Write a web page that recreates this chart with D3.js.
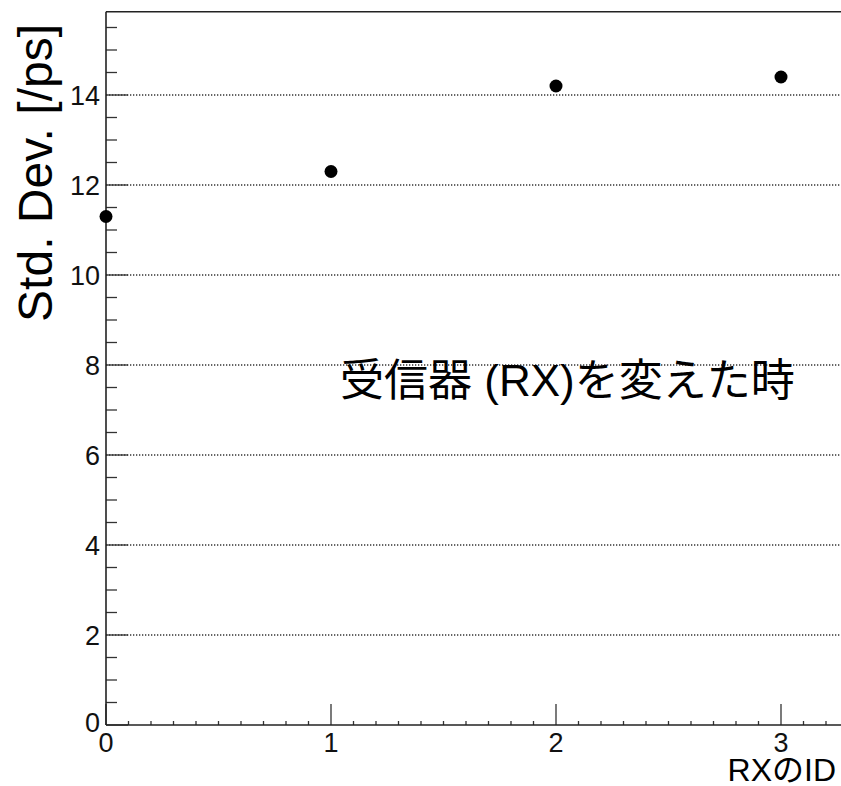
<!DOCTYPE html>
<html>
<head>
<meta charset="utf-8">
<script src="https://cdn.jsdelivr.net/npm/d3@7"></script>
<style>
  html, body { margin: 0; padding: 0; background: #fff; overflow: hidden; }
  text { font-family: "Liberation Sans", Arial, "Noto Sans CJK JP", sans-serif; }
</style>
</head>
<body>
<div id="chart"></div>
<script>
// data
const rxIds = [0, 1, 2, 3];
const stdDevs = [11.3, 12.3, 14.2, 14.4];
const yTicks = [0, 2, 4, 6, 8, 10, 12, 14];
const xTicks = [0, 1, 2, 3];
const yTitle = "Std. Dev. [/ps]";
const xTitle = "RXのID";
const note = "受信器 (RX)を変えた時";

const width = 841, height = 786;

const svg = d3.select("#chart").append("svg")
    .attr("width", width)
    .attr("height", height);

const xScale = d3.scaleLinear().domain([0, 3.3]).range([106, 848.5]);
const yScale = d3.scaleLinear().domain([0, 15.85]).range([725, 11.75]);

// dotted grid lines
svg.append("g")
    .selectAll("line")
    .data(yTicks.filter(d => d > 0))
    .enter().append("line")
    .attr("x1", xScale(0))
    .attr("x2", width)
    .attr("y1", d => yScale(d))
    .attr("y2", d => yScale(d))
    .attr("stroke", "#333")
    .attr("stroke-width", 1.3)
    .attr("stroke-dasharray", "1.3,1.7");

// y axis: ticks point into the plot
const yMinor = d3.range(0, 15.8, 0.5).filter(v => v % 2 !== 0);
const yAxis = svg.append("g").attr("class", "yAxis");
yAxis.selectAll(".minor")
    .data(yMinor)
    .enter().append("line")
    .attr("x1", xScale(0)).attr("x2", xScale(0) + 11)
    .attr("y1", d => yScale(d)).attr("y2", d => yScale(d))
    .attr("stroke", "#333").attr("stroke-width", 1.3);
yAxis.selectAll(".major")
    .data(yTicks)
    .enter().append("line")
    .attr("x1", xScale(0)).attr("x2", xScale(0) + 22)
    .attr("y1", d => yScale(d)).attr("y2", d => yScale(d))
    .attr("stroke", "#333").attr("stroke-width", 1.3);
yAxis.selectAll("text")
    .data(yTicks)
    .enter().append("text")
    .attr("x", 100)
    .attr("y", d => yScale(d) + (d === 0 ? -3 : 0))
    .attr("dy", "0.36em")
    .attr("text-anchor", "end")
    .attr("font-size", 27)
    .attr("fill", "#111")
    .text(d => d);

// x axis
const xMinor = d3.range(0, 3.31, 0.1).filter(v => Math.abs(v - Math.round(v)) > 0.01);
const xAxis = svg.append("g").attr("class", "xAxis");
xAxis.selectAll(".minor")
    .data(xMinor)
    .enter().append("line")
    .attr("x1", d => xScale(d)).attr("x2", d => xScale(d))
    .attr("y1", yScale(0)).attr("y2", yScale(0) - 4)
    .attr("stroke", "#333").attr("stroke-width", 1.3);
xAxis.selectAll(".major")
    .data(xTicks)
    .enter().append("line")
    .attr("x1", d => xScale(d)).attr("x2", d => xScale(d))
    .attr("y1", yScale(0)).attr("y2", yScale(0) - 21)
    .attr("stroke", "#333").attr("stroke-width", 1.3);
xAxis.selectAll("text")
    .data(xTicks)
    .enter().append("text")
    .attr("x", d => xScale(d))
    .attr("y", 752)
    .attr("text-anchor", "middle")
    .attr("font-size", 27)
    .attr("fill", "#111")
    .text(d => d);

// frame lines
svg.append("line")
    .attr("x1", xScale(0)).attr("x2", xScale(0))
    .attr("y1", yScale(15.85)).attr("y2", yScale(0))
    .attr("stroke", "#222").attr("stroke-width", 1.6);
svg.append("line")
    .attr("x1", xScale(0)).attr("x2", width)
    .attr("y1", yScale(0)).attr("y2", yScale(0))
    .attr("stroke", "#222").attr("stroke-width", 1.6);
svg.append("line")
    .attr("x1", xScale(0)).attr("x2", width)
    .attr("y1", yScale(15.85)).attr("y2", yScale(15.85))
    .attr("stroke", "#222").attr("stroke-width", 1.6);

// points
svg.selectAll(".dot")
    .data(rxIds)
    .enter().append("circle")
    .attr("class", "dot")
    .attr("cx", (d, i) => xScale(d))
    .attr("cy", (d, i) => yScale(stdDevs[i]))
    .attr("r", 6.5)
    .attr("fill", "#000");

// titles
svg.append("text")
    .attr("transform", "translate(52, 24) rotate(-90)")
    .attr("text-anchor", "end")
    .attr("font-size", 48)
    .attr("fill", "#000")
    .text(yTitle);

svg.append("text")
    .attr("x", 836)
    .attr("y", 781)
    .attr("text-anchor", "end")
    .attr("font-size", 32)
    .attr("fill", "#000")
    .text(xTitle);

svg.append("text")
    .attr("x", 340)
    .attr("y", 396)
    .attr("font-size", 44)
    .attr("fill", "#000")
    .text(note);
</script>
</body>
</html>
